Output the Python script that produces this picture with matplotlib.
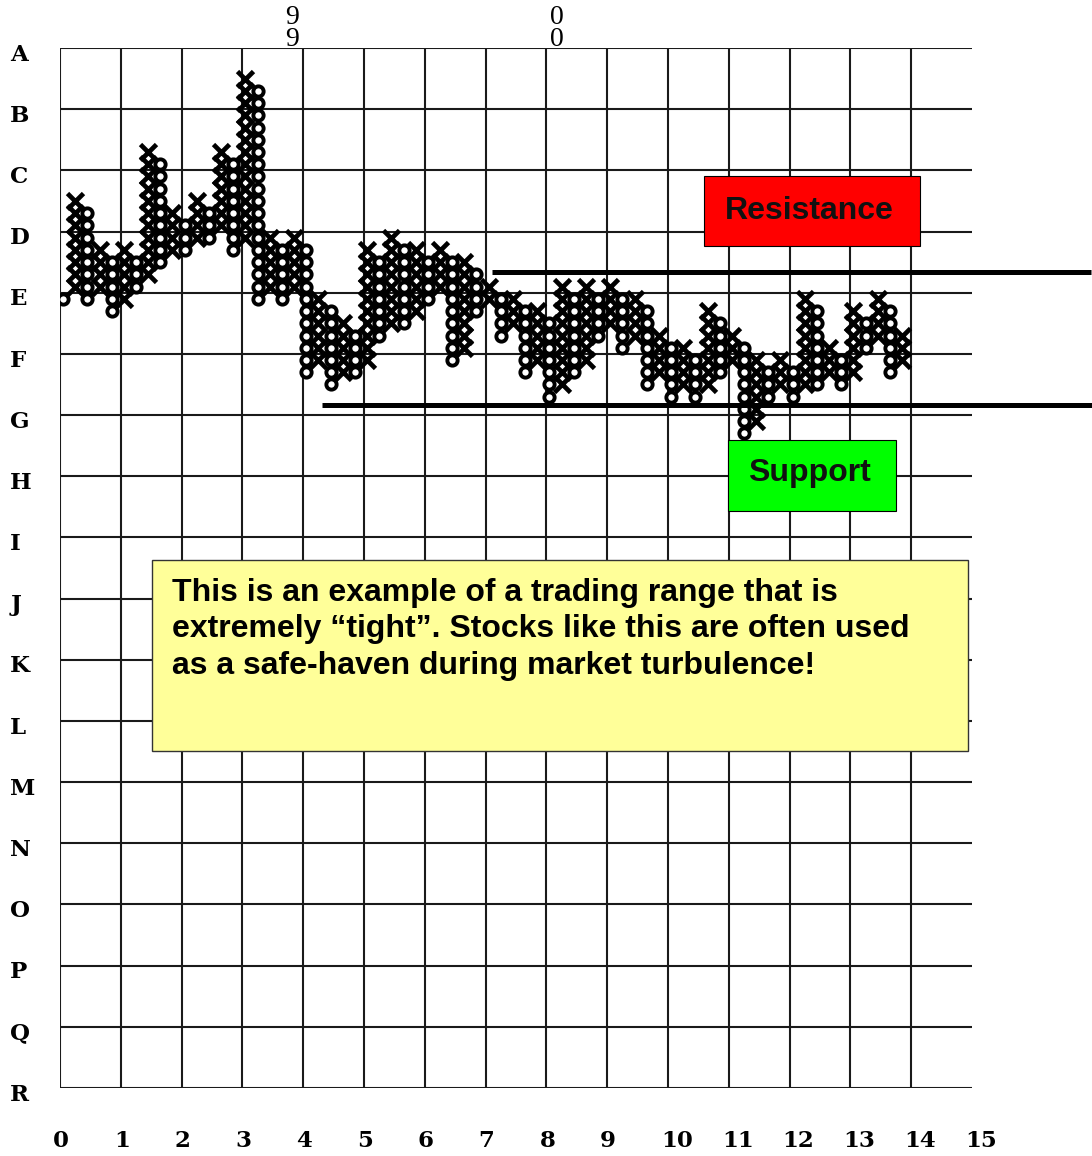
import matplotlib
matplotlib.use("Agg")
import matplotlib.pyplot as plt
from matplotlib.patches import Rectangle

# ================== data ==================
# point & figure columns, left to right (box index 0 = top of row A, 5 boxes per row)
col_kind = "OX" * 35
col_top = [20, 12, 13, 16, 17, 16, 17, 8, 9, 13, 14, 12, 13, 8, 9, 2, 3, 15, 16, 15,
           16, 20, 21, 22, 23, 16, 17, 15, 16, 16, 17, 16, 17, 17, 18, 19, 20, 20, 21, 21,
           22, 19, 20, 19, 20, 19, 20, 20, 21, 23, 24, 24, 25, 21, 22, 23, 24, 25, 26, 25,
           26, 20, 21, 24, 25, 21, 22, 20, 21, 23]
col_bot = [20, 19, 20, 19, 21, 20, 19, 18, 17, 16, 16, 15, 15, 14, 16, 15, 20, 19, 20, 19,
           26, 25, 27, 26, 26, 25, 23, 22, 22, 21, 20, 19, 25, 24, 21, 20, 23, 22, 26, 25,
           28, 27, 26, 25, 23, 22, 24, 23, 27, 26, 28, 27, 28, 27, 26, 25, 31, 30, 28, 27,
           28, 27, 27, 26, 27, 26, 24, 23, 26, 25]

row_labels = list("ABCDEFGHIJKLMNOPQR")
col_labels = [str(i) for i in range(16)]

resistance_row = 3.66
support_row = 5.83

note_lines = ["This is an example of a trading range that is",
              "extremely \u201ctight\u201d. Stocks like this are often used",
              "as a safe-haven during market turbulence!"]

# ================== figure ==================
W, H = 1092, 1156
fig = plt.figure(figsize=(W / 100, H / 100), dpi=100)
fig.patch.set_facecolor("white")
ax = fig.add_axes([60 / W, 1 - 1088 / H, 912 / W, 1040 / H])
ax.set_xlim(0, 15)
ax.set_ylim(17, 0)
ax.axis("off")

BOX = 0.2
grid_kw = dict(color="#1a1a1a", linewidth=1.5, zorder=1)
ax.hlines(range(18), 0, 15, **grid_kw)
ax.vlines(range(15), 0, 17, **grid_kw)

# ----------- X / O columns -----------
for c, (kind, top, bot) in enumerate(zip(col_kind, col_top, col_bot)):
    x = 0.05 + BOX * c
    ys = [BOX * (k + 0.5) for k in range(top, bot + 1)]
    if kind == "X":
        ax.plot([x] * len(ys), ys, linestyle="none", marker="x", markersize=11,
                markeredgewidth=3.4, color="black", zorder=3)
    else:
        ax.plot([x] * len(ys), ys, linestyle="none", marker="o", markersize=7.4,
                markeredgewidth=2.8, markerfacecolor="white", markeredgecolor="black", zorder=4)

# ----------- support / resistance -----------
ax.plot([7.1, 16.95], [resistance_row, resistance_row], color="black", linewidth=3.6,
        clip_on=False, zorder=5, solid_capstyle="butt")
ax.plot([4.31, 17.0], [support_row, support_row], color="black", linewidth=3.6,
        clip_on=False, zorder=5, solid_capstyle="butt")

ax.add_patch(Rectangle((10.59, 2.09), 3.55, 1.15, facecolor="#ff0000", edgecolor="black",
                       linewidth=0.8, zorder=6))
ax.text(12.32, 2.79, "Resistance", ha="center", va="baseline", fontsize=23,
        fontweight="bold", family="Liberation Sans", color="#111111", zorder=7)
ax.add_patch(Rectangle((10.99, 6.41), 2.76, 1.16, facecolor="#00ff00", edgecolor="black",
                       linewidth=0.8, zorder=6))
ax.text(12.32, 7.08, "Support", ha="center", va="baseline", fontsize=23,
        fontweight="bold", family="Liberation Sans", color="#111111", zorder=7)

# ----------- note box -----------
ax.add_patch(Rectangle((1.51, 8.37), 13.42, 3.12, facecolor="#ffff99", edgecolor="#333333",
                       linewidth=1.0, zorder=6))
for i, line in enumerate(note_lines):
    ax.text(1.84, 9.04 + 0.595 * i, line, ha="left", va="baseline", fontsize=23,
            fontweight="bold", family="Liberation Sans", color="black", zorder=7)

# ----------- axis labels -----------
for i, lab in enumerate(row_labels):
    ax.text(-0.82, i + 0.11, lab, ha="left", va="center", fontsize=16.5,
            fontweight="bold", family="DejaVu Serif", clip_on=False)
for i, lab in enumerate(col_labels):
    ax.text(i - 0.115, 17.86, lab, ha="left", va="center", fontsize=16.5,
            fontweight="bold", family="DejaVu Serif", clip_on=False)

# year markers on top (digits stacked)
for xm, digit in [(3.82, "9"), (8.17, "0")]:
    ax.text(xm, -0.32, digit + "\n" + digit, ha="center", va="center", fontsize=20,
            linespacing=0.82, family="Liberation Serif", clip_on=False)

fig.savefig("out.png", dpi=100)
